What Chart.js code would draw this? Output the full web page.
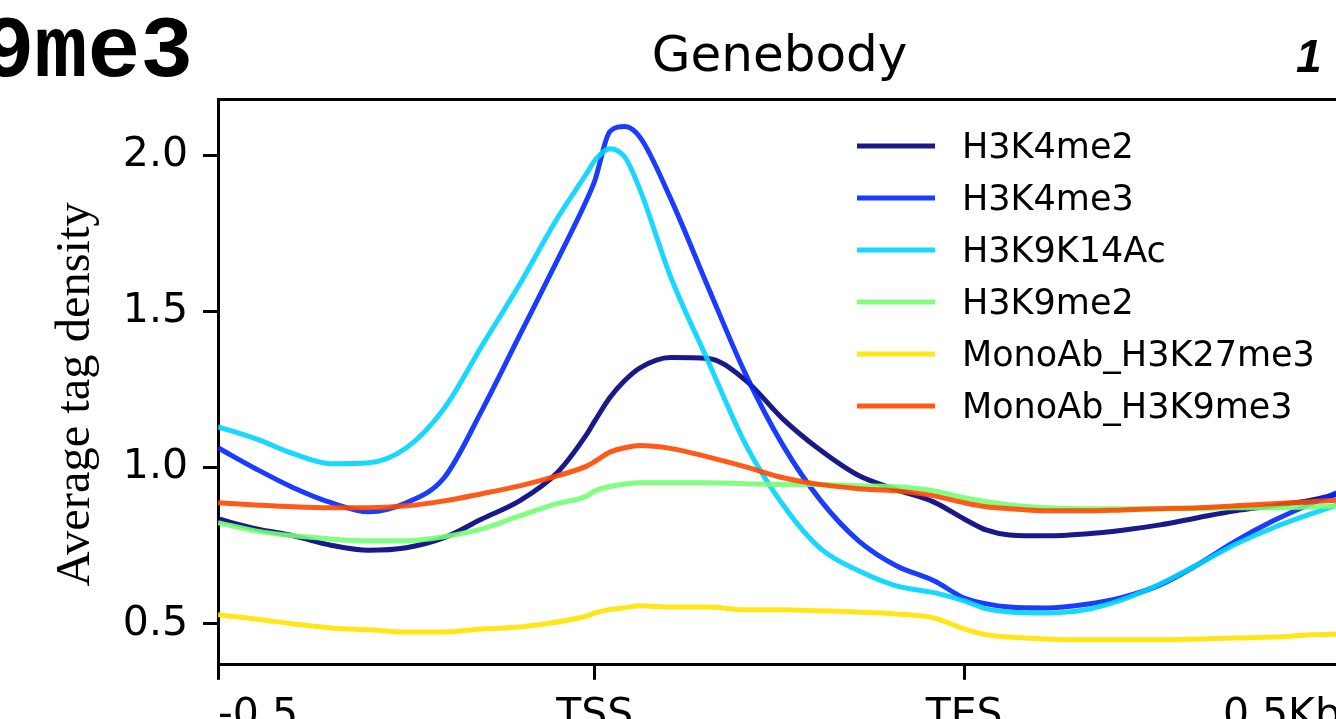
<!DOCTYPE html>
<html>
<head>
<meta charset="utf-8">
<script src="https://cdn.jsdelivr.net/npm/chart.js@4"></script>
<style>
  html, body { margin: 0; padding: 0; background: #fff; overflow: hidden; }
  #wrap { width: 1336px; height: 719px; overflow: hidden; position: relative; }
  canvas { position: absolute; left: 0; top: 0; }
</style>
</head>
<body>
<div id="wrap"><canvas id="myChart" width="1400" height="760"></canvas></div>
<script>
// bin positions along the scaled gene body (0 = -0.5kb, 50 = TSS, 99 = TES, 149 = +0.5kb)
const bins = [0, 5, 10, 15, 20, 25, 30, 35, 40, 45, 49, 50, 52, 54, 56, 60, 65, 70, 75, 80, 85, 90, 95, 99, 102, 105, 110, 115, 120, 125, 130, 135, 140, 145, 149]

const h3k4me2 = [0.836, 0.805, 0.782, 0.752, 0.736, 0.744, 0.776, 0.836, 0.894, 0.984, 1.11, 1.15, 1.225, 1.28, 1.32, 1.353, 1.35, 1.28, 1.155, 1.055, 0.975, 0.93, 0.89, 0.836, 0.80, 0.785, 0.782, 0.788, 0.80, 0.817, 0.84, 0.862, 0.878, 0.896, 0.918]
const h3k4me3 = [1.064, 0.997, 0.936, 0.888, 0.859, 0.888, 0.968, 1.183, 1.423, 1.663, 1.862, 1.92, 2.077, 2.093, 2.058, 1.865, 1.58, 1.30, 1.07, 0.894, 0.766, 0.686, 0.638, 0.583, 0.564, 0.554, 0.551, 0.562, 0.585, 0.625, 0.69, 0.765, 0.83, 0.885, 0.925]
const h3k9k14ac = [1.131, 1.093, 1.045, 1.013, 1.016, 1.064, 1.19, 1.39, 1.587, 1.798, 1.946, 1.984, 2.022, 1.994, 1.89, 1.615, 1.343, 1.075, 0.88, 0.74, 0.67, 0.622, 0.60, 0.574, 0.548, 0.538, 0.535, 0.545, 0.578, 0.628, 0.69, 0.755, 0.808, 0.852, 0.885]
const h3k9me2 = [0.824, 0.798, 0.782, 0.772, 0.766, 0.766, 0.779, 0.804, 0.846, 0.885, 0.91, 0.926, 0.94, 0.948, 0.952, 0.952, 0.952, 0.949, 0.946, 0.946, 0.942, 0.939, 0.926, 0.904, 0.891, 0.881, 0.872, 0.869, 0.869, 0.869, 0.869, 0.872, 0.872, 0.875, 0.878]
const h3k27me3 = [0.529, 0.516, 0.50, 0.487, 0.481, 0.474, 0.474, 0.484, 0.49, 0.506, 0.526, 0.535, 0.546, 0.552, 0.558, 0.554, 0.554, 0.545, 0.545, 0.542, 0.538, 0.532, 0.519, 0.484, 0.465, 0.458, 0.452, 0.449, 0.449, 0.449, 0.452, 0.455, 0.458, 0.465, 0.468]
const h3k9me3 = [0.888, 0.881, 0.875, 0.872, 0.872, 0.878, 0.894, 0.917, 0.942, 0.974, 1.006, 1.02, 1.05, 1.064, 1.071, 1.062, 1.035, 1.003, 0.968, 0.946, 0.933, 0.926, 0.91, 0.888, 0.875, 0.869, 0.862, 0.862, 0.865, 0.869, 0.872, 0.878, 0.885, 0.891, 0.897]

const seriesNames = ['H3K4me2', 'H3K4me3', 'H3K9K14Ac', 'H3K9me2', 'MonoAb_H3K27me3', 'MonoAb_H3K9me3']
const seriesValues = [h3k4me2, h3k4me3, h3k9k14ac, h3k9me2, h3k27me3, h3k9me3]
const seriesColors = ['rgba(0,0,128,0.9)', 'rgba(0,39,255,0.9)', 'rgba(0,212,255,0.9)', 'rgba(114,255,114,0.9)', 'rgba(255,227,0,0.9)', 'rgba(255,72,0,0.9)']

const xTickPos = [0, 50, 99, 149]
const xTickLabels = ['-0.5', 'TSS', 'TES', '0.5Kb']
const yTicks = [0.5, 1.0, 1.5, 2.0]

Chart.defaults.font.family = '"DejaVu Sans"'
Chart.defaults.color = '#000'

// legend drawn inside the axes like matplotlib, plus the cropped neighbour labels
const extras = {
  id: 'extras',
  afterDraw(chart) {
    const c = chart.ctx
    c.save()
    c.font = '35px "DejaVu Sans"'
    c.textBaseline = 'middle'
    c.textAlign = 'left'
    chart.data.datasets.forEach((ds, i) => {
      const y = 146 + i * 52
      c.strokeStyle = ds.borderColor
      c.lineWidth = 5
      c.beginPath()
      c.moveTo(857, y)
      c.lineTo(935, y)
      c.stroke()
      c.fillStyle = '#000'
      c.fillText(ds.label, 962, y + 3)
    })
    c.textBaseline = 'alphabetic'
    c.font = 'bold 88px "Liberation Mono"'
    c.textAlign = 'right'
    c.fillText('H3K9me3', 193, 76)
    c.font = 'italic bold 46px "Liberation Sans"'
    c.textAlign = 'left'
    c.fillText('1', 1296, 72)
    c.restore()
  }
}

const ctx = document.getElementById('myChart').getContext('2d')

const myChart = new Chart(ctx, {
  type: 'line',
  data: {
    datasets: seriesNames.map((name, i) => ({
      label: name,
      data: bins.map((b, j) => ({ x: b, y: seriesValues[i][j] })),
      borderColor: seriesColors[i],
      backgroundColor: seriesColors[i],
      borderWidth: 5,
      pointRadius: 0,
      cubicInterpolationMode: 'monotone',
      order: seriesNames.length - i
    }))
  },
  options: {
    responsive: false,
    animation: false,
    devicePixelRatio: 1,
    layout: { padding: { left: 44, top: 28, right: 59, bottom: 7 } },
    plugins: {
      legend: { display: false },
      tooltip: { enabled: false },
      title: {
        display: true,
        text: 'Genebody',
        fullSize: false,
        color: '#000',
        font: { size: 50, weight: 'normal' },
        padding: { top: 0, bottom: 11.6 }
      }
    },
    scales: {
      x: {
        type: 'linear',
        position: 'bottom',
        min: 0,
        max: 149,
        afterBuildTicks: s => { s.ticks = xTickPos.map(v => ({ value: v })) },
        ticks: {
          align: 'inner',
          autoSkip: false,
          maxRotation: 0,
          padding: 12,
          font: { size: 41 },
          callback: v => xTickLabels[xTickPos.indexOf(v)]
        },
        grid: { display: true, drawOnChartArea: false, drawTicks: true, tickLength: 15, tickWidth: 3, tickColor: '#000' },
        border: { display: true, color: '#000', width: 3 }
      },
      x2: {
        type: 'linear',
        position: 'top',
        min: 0,
        max: 149,
        ticks: { display: false },
        grid: { display: false, drawTicks: false },
        border: { display: true, color: '#000', width: 3 }
      },
      y: {
        position: 'left',
        min: 0.369,
        max: 2.179,
        afterBuildTicks: s => { s.ticks = yTicks.map(v => ({ value: v })) },
        afterFit: s => { s.width = 174 },
        ticks: {
          padding: 15,
          font: { size: 41 },
          callback: v => v.toFixed(1)
        },
        grid: { display: true, drawOnChartArea: false, drawTicks: true, tickLength: 15, tickWidth: 3, tickColor: '#000' },
        border: { display: true, color: '#000', width: 3 },
        title: {
          display: true,
          // two trailing spaces nudge the centred label down like the original
          text: 'Average tag density  ',
          color: '#000',
          font: { family: '"Liberation Serif"', size: 48.5 },
          padding: { top: 3, bottom: 0 }
        }
      }
    }
  },
  plugins: [extras]
})
</script>
</body>
</html>
